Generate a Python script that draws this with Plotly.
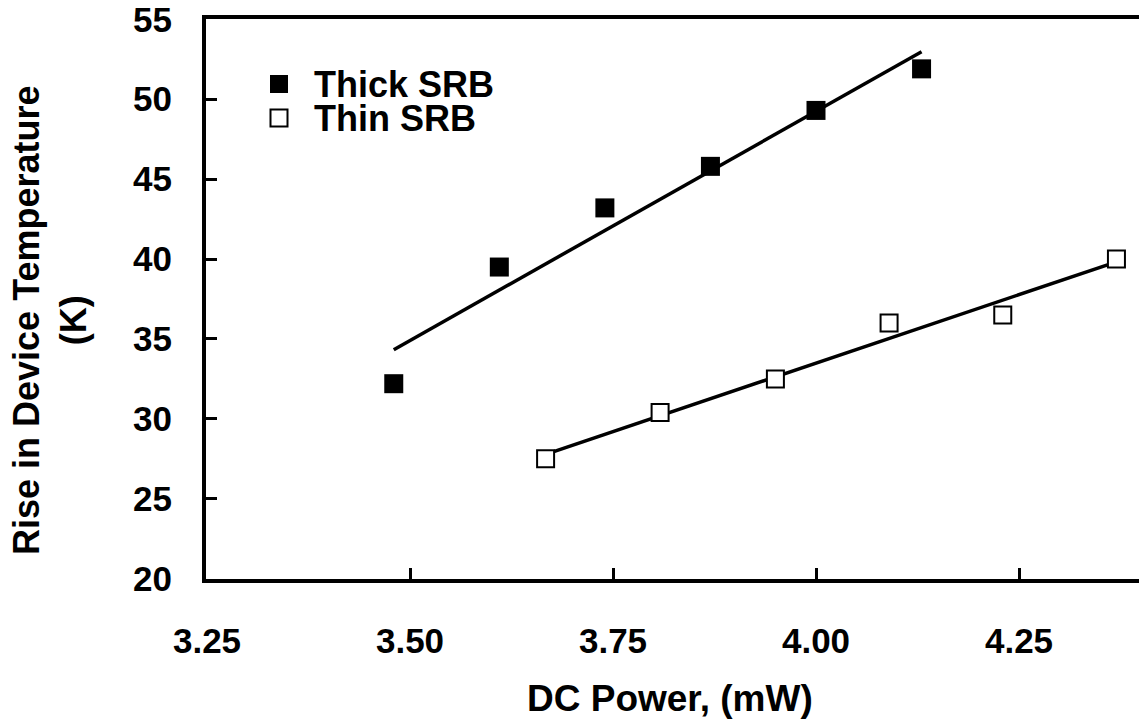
import numpy as np
import plotly.graph_objects as go

# Data
thick_x = [3.48, 3.61, 3.74, 3.87, 4.00, 4.13]
thick_y = [32.2, 39.5, 43.2, 45.8, 49.3, 51.9]
thin_x = [3.667, 3.808, 3.95, 4.09, 4.23, 4.37]
thin_y = [27.5, 30.4, 32.5, 36.0, 36.5, 40.0]
x_ticks = [3.25, 3.50, 3.75, 4.00, 4.25]
y_ticks = [20, 25, 30, 35, 40, 45, 50, 55]
series_names = ["Thick SRB", "Thin SRB"]
x_title = "DC Power, (mW)"
y_title = "Rise in Device Temperature<br>(K)"

FONT = "Liberation Sans, Arial, sans-serif"
W, H = 1139, 725
L, R, T, B = 206, 0, 19, 146
PW, PH = W - L - R, H - T - B


def px_x(px):
    return (px - L) / PW


def px_y(py):
    return (H - B - py) / PH


def trend(xs, ys):
    m, b = np.polyfit(xs, ys, 1)
    xe = np.array([min(xs), max(xs)])
    return xe, m * xe + b


fig = go.Figure()

tx, ty = trend(thick_x, thick_y)
fig.add_trace(go.Scatter(x=tx, y=ty, mode="lines", line=dict(color="black", width=3.5),
                         showlegend=False, hoverinfo="skip"))
nx, ny = trend(thin_x, thin_y)
fig.add_trace(go.Scatter(x=nx, y=ny, mode="lines", line=dict(color="black", width=3.5),
                         showlegend=False, hoverinfo="skip"))

fig.add_trace(go.Scatter(x=thick_x, y=thick_y, mode="markers", name=series_names[0],
                         marker=dict(symbol="square", size=19, color="black",
                                     line=dict(color="black", width=0)),
                         showlegend=False))
fig.add_trace(go.Scatter(x=thin_x, y=thin_y, mode="markers", name=series_names[1],
                         marker=dict(symbol="square", size=17, color="white",
                                     line=dict(color="black", width=2)),
                         showlegend=False))

# Legend drawn as compact key (squares + labels), matching the tight row spacing
shapes = []
annotations = []
legend_rows = [(84, "black", series_names[0]), (118, "white", series_names[1])]
for cy, fill, label in legend_rows:
    half = 9 if fill == "black" else 8.5
    shapes.append(dict(type="rect", xref="paper", yref="paper",
                       x0=px_x(279 - half), x1=px_x(279 + half),
                       y0=px_y(cy + half), y1=px_y(cy - half),
                       fillcolor=fill, line=dict(color="black", width=2 if fill == "white" else 0)))
    annotations.append(dict(text=f"<b>{label}</b>", xref="paper", yref="paper",
                            x=px_x(312), y=px_y(cy), xanchor="left", yanchor="middle",
                            showarrow=False, font=dict(size=36, family=FONT, color="black")))

annotations.append(dict(text=f"<b>{x_title}</b>", xref="paper", yref="paper",
                        x=px_x(670), y=px_y(698), xanchor="center", yanchor="middle",
                        showarrow=False, font=dict(size=37, family=FONT, color="black")))
annotations.append(dict(text=f"<b>{y_title}</b>", xref="paper", yref="paper",
                        x=px_x(50), y=px_y(320), xanchor="center", yanchor="middle",
                        textangle=-90, showarrow=False,
                        font=dict(size=36, family=FONT, color="black")))

fig.update_layout(
    width=W, height=H,
    margin=dict(l=L, r=R, t=T, b=B),
    paper_bgcolor="white", plot_bgcolor="white",
    font=dict(family=FONT, size=35, color="black"),
    showlegend=False,
    hovermode=False,
    shapes=shapes,
    annotations=annotations,
    xaxis=dict(
        range=[3.25 - 1 / 812, 3.25 + 932 / 812],
        tickvals=x_ticks, ticktext=[f"{v:.2f}" for v in x_ticks],
        ticks="inside", ticklen=11, tickwidth=3, tickcolor="black",
        showline=True, linewidth=4, linecolor="black", mirror=True,
        showgrid=False, zeroline=False,
        tickfont=dict(size=35, family=FONT, weight="bold"),
        ticklabelstandoff=28, ticklabeloverflow="allow",
    ),
    yaxis=dict(
        range=[19.98, 55.02],
        tickvals=y_ticks,
        ticks="inside", ticklen=11, tickwidth=3, tickcolor="black",
        showline=True, linewidth=4, linecolor="black", mirror=False,
        showgrid=False, zeroline=False,
        tickfont=dict(size=35, family=FONT, weight="bold"),
        ticklabelstandoff=23, ticklabeloverflow="allow",
    ),
)

fig.write_html("out.html",
               config={"displayModeBar": False, "staticPlot": True},
               post_script="document.body.style.margin='0px';document.body.style.overflow='hidden';")
